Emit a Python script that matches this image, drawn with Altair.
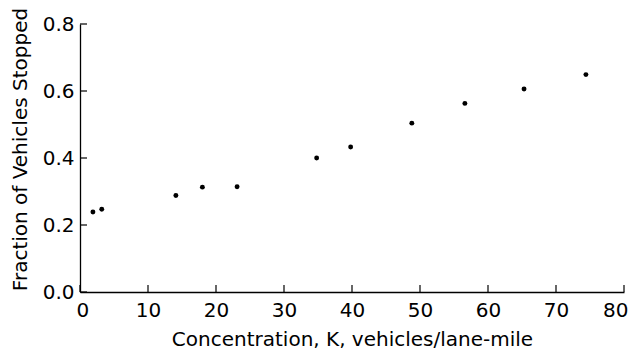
import altair as alt
import pandas as pd

conc = [1.9, 3.2, 14.1, 18.0, 23.1, 34.8, 39.8, 48.8, 56.6, 65.3, 74.4]
frac = [0.239, 0.247, 0.288, 0.313, 0.314, 0.400, 0.433, 0.504, 0.563, 0.606, 0.649]
x_ticks = [0, 10, 20, 30, 40, 50, 60, 70, 80]
y_ticks = [0.0, 0.2, 0.4, 0.6, 0.8]

df = pd.DataFrame({"conc": conc, "frac": frac})
xt = pd.DataFrame({"v": x_ticks})
yt = pd.DataFrame({"v": y_ticks})

FONT = "DejaVu Sans"
W, H = 544, 268
xscale = alt.Scale(domain=[0, 80], nice=False, zero=False)
yscale = alt.Scale(domain=[0, 0.8], nice=False, zero=False)

points = alt.Chart(df).mark_circle(size=24, color="black", opacity=1).encode(
    x=alt.X("conc:Q", scale=xscale,
            axis=alt.Axis(title="Concentration, K, vehicles/lane-mile", values=x_ticks,
                          ticks=False, labelPadding=8, format="d",
                          labelFlush=True, labelFlushOffset=4,
                          titlePadding=9, titleFontWeight="normal", titleFontSize=20,
                          labelFontSize=20, labelFont=FONT, titleFont=FONT,
                          domainColor="black", domainWidth=1.3, labelColor="black",
                          titleColor="black", grid=False)),
    y=alt.Y("frac:Q", scale=yscale,
            axis=alt.Axis(title="Fraction of Vehicles Stopped", values=y_ticks,
                          ticks=False, labelPadding=6, format=".1f", labelFlush=False,
                          titlePadding=12, titleFontWeight="normal", titleFontSize=20,
                          titleY=125,
                          labelFontSize=20, labelFont=FONT, titleFont=FONT,
                          domainColor="black", domainWidth=1.3, labelColor="black",
                          titleColor="black", grid=False)),
)

xticks = alt.Chart(xt).mark_rule(color="black", strokeWidth=1.2).encode(
    x=alt.X("v:Q", scale=xscale),
    y=alt.value(H),
    y2=alt.value(H - 7),
)
yticks = alt.Chart(yt).mark_rule(color="black", strokeWidth=1.2).encode(
    y=alt.Y("v:Q", scale=yscale),
    x=alt.value(0),
    x2=alt.value(7),
)

chart = alt.layer(xticks, yticks, points).properties(
    width=W, height=H,
    autosize=alt.AutoSizeParams(type="none"),
    padding={"left": 72, "top": 16, "right": 4, "bottom": 58},
    background="white",
).configure_view(stroke=None)

chart.save("out.html", embed_options={"renderer": "svg", "actions": False})
